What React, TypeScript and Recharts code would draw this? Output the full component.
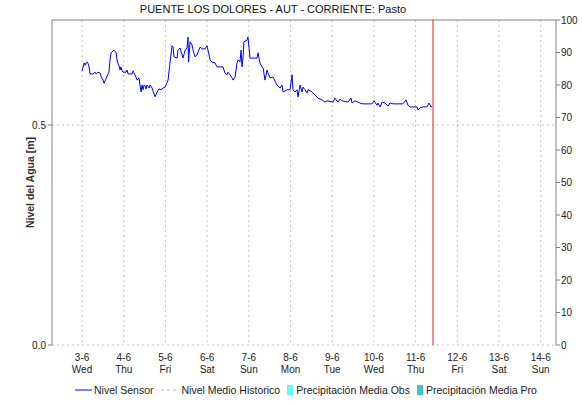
import {
  ComposedChart,
  Line,
  Bar,
  XAxis,
  YAxis,
  CartesianGrid,
  ReferenceLine,
} from "recharts"

// hours since 3-6 00:00, water level in metres
const sensorHours = [
  0, 1.2, 1.7, 2.3, 2.9, 3.5, 4.0, 4.6, 6.3, 7.5, 8.1, 9.2, 10.4, 10.9, 12.1, 12.7, 13.8, 15.0, 15.5, 16.1,
  16.7, 17.8, 18.4, 19.6, 20.1, 20.7, 21.3, 21.9, 22.4, 23.0, 23.6, 25.3, 25.9, 26.5, 27.6, 28.8, 29.4, 29.9,
  30.5, 31.7, 32.8, 33.4, 34.0, 34.5, 35.1, 35.7, 36.3, 36.8, 37.4, 38.6, 39.1, 40.3, 42.0, 43.2, 44.3, 45.5,
  46.6, 47.8, 49.5, 50.6, 51.8, 52.4, 52.9, 54.7, 55.2, 56.4, 57.6, 58.1, 59.3, 60.4, 61.0, 61.3, 62.2, 63.3,
  63.9, 65.0, 66.2, 66.8, 67.9, 69.1, 70.8, 71.9, 72.5, 73.7, 74.8, 76.5, 77.7, 81.1, 82.3, 83.4, 84.0, 85.2,
  86.3, 86.9, 88.1, 89.2, 89.8, 90.9, 91.5, 92.1, 92.7, 93.2, 95.0, 95.5, 96.7, 100.7, 101.3, 102.4, 103.6,
  104.2, 105.3, 106.5, 107.0, 108.2, 109.9, 112.2, 114.0, 115.1, 115.7, 118.0, 119.7, 120.9, 121.4, 122.6,
  123.7, 124.3, 125.5, 126.6, 127.2, 128.3, 129.5, 130.1, 132.4, 134.1, 135.8, 138.1, 139.8, 141.0, 144.5,
  145.6, 147.3, 148.5, 149.6, 153.1, 154.8, 155.4, 157.1, 160.0, 161.7, 166.9, 168.0, 169.8, 170.3, 171.5,
  172.7, 174.4, 176.1, 177.3, 179.0, 184.7, 186.5, 187.6, 188.8, 192.8, 193.4, 194.5, 196.2, 198.5, 199.7,
  200.9, 201.4,
]
const sensorLevel = [
  0.623, 0.641, 0.636, 0.641, 0.643, 0.639, 0.632, 0.616, 0.616, 0.62, 0.616, 0.62, 0.618, 0.611, 0.602, 0.595,
  0.605, 0.616, 0.62, 0.648, 0.664, 0.668, 0.67, 0.664, 0.648, 0.639, 0.634, 0.625, 0.632, 0.623, 0.62, 0.62,
  0.625, 0.616, 0.616, 0.616, 0.623, 0.618, 0.614, 0.602, 0.607, 0.589, 0.575, 0.591, 0.58, 0.591, 0.589, 0.582,
  0.591, 0.584, 0.591, 0.584, 0.564, 0.575, 0.582, 0.58, 0.584, 0.586, 0.602, 0.641, 0.68, 0.677, 0.655, 0.652,
  0.67, 0.675, 0.659, 0.652, 0.67, 0.675, 0.7, 0.643, 0.689, 0.682, 0.67, 0.655, 0.659, 0.666, 0.677, 0.673,
  0.673, 0.68, 0.67, 0.648, 0.643, 0.641, 0.632, 0.632, 0.618, 0.614, 0.62, 0.614, 0.607, 0.602, 0.609, 0.641,
  0.648, 0.643, 0.67, 0.632, 0.655, 0.689, 0.693, 0.7, 0.652, 0.652, 0.664, 0.641, 0.632, 0.63, 0.602, 0.625,
  0.618, 0.607, 0.609, 0.591, 0.584, 0.591, 0.575, 0.58, 0.58, 0.614, 0.58, 0.575, 0.58, 0.564, 0.591, 0.575,
  0.586, 0.58, 0.573, 0.58, 0.575, 0.568, 0.561, 0.557, 0.552, 0.555, 0.552, 0.561, 0.552, 0.559, 0.555, 0.552,
  0.561, 0.55, 0.555, 0.55, 0.548, 0.548, 0.555, 0.545, 0.55, 0.541, 0.552, 0.55, 0.543, 0.55, 0.548, 0.548,
  0.557, 0.545, 0.541, 0.541, 0.534, 0.539, 0.541, 0.541, 0.55, 0.541, 0.543,
]
// no precipitation recorded in the window
const precipObs: number[] = []

const dayLabels = ["3-6", "4-6", "5-6", "6-6", "7-6", "8-6", "9-6", "10-6", "11-6", "12-6", "13-6", "14-6"]
const weekDays = ["Wed", "Thu", "Fri", "Sat", "Sun", "Mon", "Tue", "Wed", "Thu", "Fri", "Sat", "Sun"]
const levelTicks = [0, 0.5]
const rainTicks = [0, 10, 20, 30, 40, 50, 60, 70, 80, 90, 100]
const nowHour = 202

const data = sensorHours.map((h, i) => ({ h, nivel: sensorLevel[i], lluvia: precipObs[i] ?? 0 }))
const dayTicks = dayLabels.map((_, i) => i * 24)

const FONT = "'Liberation Sans', Arial, sans-serif"
const AXIS = "#808080"
const GRID = "#c4c4c4"

const DayTick = ({ x, y, index }: any) => (
  <g fontFamily={FONT} fontSize={10} fill="#222">
    <text x={x} y={y + 8} textAnchor="middle">{dayLabels[index]}</text>
    <text x={x} y={y + 20} textAnchor="middle">{weekDays[index]}</text>
  </g>
)

const LegendRow = () => (
  <div
    style={{
      position: "absolute",
      top: 384,
      left: 75,
      display: "flex",
      alignItems: "center",
      fontFamily: FONT,
      fontSize: 10.5,
      color: "#222",
      whiteSpace: "nowrap",
    }}
  >
    <svg width={18} height={10}><line x1={0} y1={5} x2={17} y2={5} stroke="#0000ff" /></svg>
    <span style={{ marginLeft: 1, marginRight: 7 }}>Nivel Sensor</span>
    <svg width={18} height={10}><line x1={0} y1={5} x2={17} y2={5} stroke="#bbb" strokeDasharray="3 3" /></svg>
    <span style={{ marginLeft: 3, marginRight: 7 }}>Nivel Medio Historico</span>
    <span style={{ width: 6, height: 10, background: "#5ffcff", display: "inline-block" }} />
    <span style={{ marginLeft: 3, marginRight: 7 }}>Precipitación Media Obs</span>
    <span style={{ width: 6, height: 10, background: "#40c4c4", display: "inline-block" }} />
    <span style={{ marginLeft: 3 }}>Precipitación Media Pro</span>
  </div>
)

export default function App() {
  return (
    <div style={{ position: "absolute", left: 0, top: 0, width: 582, height: 404, background: "#fff" }}>
      <div
        style={{
          position: "absolute",
          top: 3,
          left: 0,
          width: 546,
          textAlign: "center",
          fontFamily: FONT,
          fontSize: 11,
          color: "#111",
        }}
      >
        PUENTE LOS DOLORES - AUT - CORRIENTE: Pasto
      </div>
      <ComposedChart
        width={582}
        height={404}
        data={data}
        margin={{ top: 20, right: 0, bottom: 29, left: 0 }}
      >
        <CartesianGrid
          yAxisId="level"
          stroke={GRID}
          strokeDasharray="2 3"
          horizontalValues={levelTicks}
          verticalValues={dayTicks}
        />
        <XAxis
          dataKey="h"
          type="number"
          domain={[-17.3, 272.8]}
          ticks={dayTicks}
          allowDataOverflow
          axisLine={false}
          tickLine={false}
          height={30}
          tick={<DayTick />}
          interval={0}
        />
        <YAxis
          yAxisId="level"
          domain={[0, 0.7386]}
          ticks={levelTicks}
          allowDataOverflow
          width={52}
          tickSize={4}
          tickMargin={2}
          tickFormatter={(v: number) => v.toFixed(1)}
          stroke={AXIS}
          axisLine={{ stroke: AXIS }}
          tick={{ fontFamily: FONT, fontSize: 10, fill: "#222" }}
          label={{
            value: "Nivel del Agua [m]",
            angle: -90,
            position: "insideLeft",
            offset: 30,
            style: { fontFamily: FONT, fontSize: 10.5, fontWeight: "bold", fill: "#333", textAnchor: "middle" },
          }}
        />
        <YAxis
          yAxisId="rain"
          orientation="right"
          domain={[0, 100]}
          ticks={rainTicks}
          allowDataOverflow
          width={26}
          tickSize={4}
          tickMargin={1}
          stroke={AXIS}
          axisLine={{ stroke: AXIS }}
          tick={{ fontFamily: FONT, fontSize: 10, fill: "#222" }}
        />
        <ReferenceLine yAxisId="level" y={0.7386} stroke={AXIS} ifOverflow="extendDomain" />
        <ReferenceLine yAxisId="level" x={nowHour} stroke="#f02020" strokeWidth={1} ifOverflow="extendDomain" />
        <Bar yAxisId="rain" dataKey="lluvia" fill="#5ffcff" isAnimationActive={false} />
        <Line
          yAxisId="level"
          dataKey="nivel"
          type="linear"
          stroke="#0000ff"
          strokeWidth={1}
          dot={false}
          isAnimationActive={false}
        />
      </ComposedChart>
      <LegendRow />
    </div>
  )
}
